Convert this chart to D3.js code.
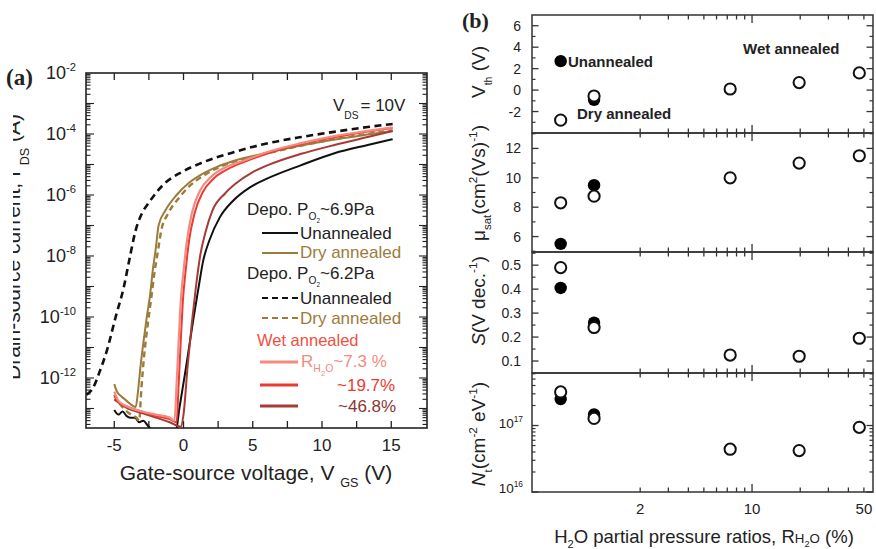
<!DOCTYPE html>
<html><head><meta charset="utf-8">
<script src="https://cdn.jsdelivr.net/npm/d3@7"></script>
<style>
body{margin:0;background:#fff}
svg{display:block}
text{font-family:"Liberation Sans",Arial,Helvetica,sans-serif;fill:#222}
</style></head>
<body><svg id="c" width="876" height="549"></svg>
<script>
// ---------------- DATA : panel (a) transfer curves, VGS (V) and log10(IDS/A) ----------------
const v_unann69   = [-5,-4.7,-4.4,-4.1,-3.85,-3.5,-3.2,-2.9,-2.6,-2.3,-1.5,-0.55,-0.3,0.2,0.7,1.1,1.4,1.9,2.6,3.6,4.8,6.1,8.5,10.9,13.3,15.1];
const logI_unann69= [-13.05,-13.2,-13.1,-13.25,-13.3,-13.3,-13.45,-13.4,-13.55,-13.7,-13.95,-13.75,-13.0,-11.6,-10.1,-9.0,-8.2,-7.45,-6.75,-6.18,-5.75,-5.45,-5.02,-4.63,-4.36,-4.17];

const v_dry69     = [-5,-4.8,-4.5,-4.1,-3.7,-3.45,-3.3,-3.1,-2.9,-2.65,-2.42,-2.2,-2.0,-1.8,-1.3,-0.5,0.4,1.4,2.5,3.5,6.0,8.5,10.9,13.3,15.1];
const logI_dry69  = [-12.2,-12.45,-12.6,-12.75,-12.9,-12.95,-12.5,-11.6,-10.85,-10.0,-9.3,-8.4,-7.75,-7.0,-6.5,-6.0,-5.6,-5.3,-5.06,-4.9,-4.62,-4.38,-4.18,-4.02,-3.9];

const v_unann62   = [-7.0,-6.5,-6.1,-5.5,-4.9,-4.3,-3.9,-3.45,-3.0,-2.5,-1.5,-0.14,1.29,3.67,6.12,8.49,10.86,13.3,15.1];
const logI_unann62= [-12.55,-12.3,-11.85,-11.05,-10.0,-9.0,-8.1,-7.15,-6.6,-6.25,-5.68,-5.25,-4.95,-4.59,-4.3,-4.1,-3.93,-3.77,-3.67];

const v_dry62     = [-5,-4.6,-4.2,-3.8,-3.4,-3.2,-3.05,-2.85,-2.6,-2.35,-2.1,-1.85,-1.6,-1.1,-0.3,0.5,1.4,2.5,3.5,6.0,8.5,11.0,13.3,15.1];
const logI_dry62  = [-12.55,-12.85,-13.05,-13.2,-13.3,-13.4,-12.4,-11.3,-10.3,-9.45,-8.55,-7.85,-7.15,-6.6,-6.08,-5.68,-5.38,-5.1,-4.93,-4.64,-4.38,-4.16,-4.0,-3.88];

const v_wet73     = [-5,-4.7,-4.0,-3.0,-2.0,-1.0,-0.65,-0.5,-0.35,-0.2,0.0,0.25,0.6,1.2,2.0,3.0,4.5,6.0,8.5,11.0,13.3,15.1];
const logI_wet73  = [-12.45,-12.75,-12.95,-13.1,-13.2,-13.3,-13.4,-12.2,-10.8,-9.5,-8.5,-7.5,-6.6,-5.85,-5.4,-5.1,-4.85,-4.6,-4.3,-4.06,-3.9,-3.78];

const v_wet197    = [-5,-4.5,-4.0,-3.0,-2.0,-1.0,-0.5,-0.35,-0.2,-0.05,0.15,0.4,0.8,1.4,2.2,3.2,4.5,6.0,8.5,11.0,13.3,15.1];
const logI_wet197 = [-12.6,-12.85,-12.95,-13.1,-13.25,-13.35,-13.45,-12.2,-10.8,-9.5,-8.5,-7.5,-6.6,-5.9,-5.45,-5.15,-4.9,-4.65,-4.33,-4.1,-3.92,-3.8];

const v_wet468    = [-5,-4.0,-3.0,-2.0,-1.0,-0.2,0.0,0.3,0.6,0.9,1.2,1.6,2.1,3.0,3.7,5.0,6.1,8.5,10.9,13.3,15.1];
const logI_wet468 = [-12.7,-13.0,-13.15,-13.3,-13.45,-13.6,-13.2,-11.6,-10.2,-9.0,-8.0,-7.2,-6.5,-5.95,-5.65,-5.25,-5.02,-4.65,-4.36,-4.1,-3.9];

const xTicksA = [-5,0,5,10,15];
const yTickExpA = [-2,-4,-6,-8,-10,-12];

// ---------------- DATA : panel (b) ----------------
// x positions on the log axis for the non-wet categories, and wet R_H2O (%)
const catNames = ["Unannealed","Dry annealed"];
const catPos   = [0.637, 1.03];
const wetR     = [7.3, 19.7, 46.8];
// filled symbols (Depo. 6.9 Pa), open symbols (Depo. 6.2 Pa), wet annealed (open)
const vthFilled = [2.7, -0.9],  vthOpen = [-2.8, -0.55], vthWet = [0.1, 0.7, 1.6];
const muFilled  = [5.5, 9.5],   muOpen  = [8.3, 8.75],   muWet  = [10.0, 11.0, 11.5];
const sFilled   = [0.405, 0.26],sOpen   = [0.49, 0.24],  sWet   = [0.125, 0.12, 0.195];
const ntFilled  = [2.5e17, 1.47e17], ntOpen = [3.2e17, 1.28e17], ntWet = [4.4e16, 4.2e16, 9.4e16];
const xTicksB = [2, 10, 50];

// ---------------- helpers ----------------
const svg = d3.select("#c");
const defs = svg.append("defs");

function rich(parent, x, y, fs, parts, opt={}) {
  const t = parent.append("text").attr("x", x).attr("y", y)
    .attr("font-size", fs).attr("text-anchor", opt.anchor || "start");
  if (opt.fill) t.style("fill", opt.fill);
  if (opt.weight) t.attr("font-weight", opt.weight);
  if (opt.transform) t.attr("transform", opt.transform);
  if (opt.family) t.style("font-family", opt.family);
  let cur = 0;
  parts.forEach(p => {
    let off = 0, sz = fs;
    if (p.s === "sup") { off = -0.42*fs; sz = 0.62*fs; }
    else if (p.s === "sub") { off = (p.o !== undefined ? p.o : 0.3)*fs; sz = (p.z || 0.62)*fs; }
    else if (p.s === "small") { off = 0; sz = (p.z || 0.7)*fs; }
    const ts = t.append("tspan").attr("dy", (off - cur).toFixed(2)).attr("font-size", sz).text(p.t);
    if (p.dx) ts.attr("dx", p.dx);
    if (p.i) ts.attr("font-style", "italic");
    cur = off;
  });
  return t;
}

// ================= PANEL (a) =================
const A = {l:86, r:427, t:73, b:428};
const xA = d3.scaleLinear().domain([-7.04, 17.58]).range([A.l, A.r]);
const yA = d3.scaleLog().domain([Math.pow(10,-13.64), 1e-2]).range([A.b, A.t]);
const gA = svg.append("g");

defs.append("clipPath").attr("id","clipA").append("rect")
  .attr("x",A.l).attr("y",A.t).attr("width",A.r-A.l).attr("height",A.b-A.t);

// ticks (inward) on all sides
const xMinorA = d3.range(-5, 15.01, 2.5);
xMinorA.forEach(v => {
  gA.append("line").attr("x1",xA(v)).attr("x2",xA(v)).attr("y1",A.b).attr("y2",A.b-7).attr("stroke","#222").attr("stroke-width",1.3);
  gA.append("line").attr("x1",xA(v)).attr("x2",xA(v)).attr("y1",A.t).attr("y2",A.t+7).attr("stroke","#222").attr("stroke-width",1.3);
});
for (let e = -14; e <= -3; e++) {
  for (let k = 1; k <= 9; k++) {
    const val = k*Math.pow(10,e);
    if (val < yA.domain()[0] || val > 1e-2) continue;
    const len = k === 1 ? 8 : 4.5;
    const yy = yA(val);
    gA.append("line").attr("x1",A.l).attr("x2",A.l+len).attr("y1",yy).attr("y2",yy).attr("stroke","#222").attr("stroke-width",1.1);
    gA.append("line").attr("x1",A.r).attr("x2",A.r-len).attr("y1",yy).attr("y2",yy).attr("stroke","#222").attr("stroke-width",1.1);
  }
}
gA.append("rect").attr("x",A.l).attr("y",A.t).attr("width",A.r-A.l).attr("height",A.b-A.t)
  .attr("fill","none").attr("stroke","#222").attr("stroke-width",1.6);

// tick labels
xTicksA.forEach(v => {
  gA.append("text").attr("x", xA(v)).attr("y", A.b+23).attr("text-anchor","middle")
    .attr("font-size",17).text(v < 0 ? "-" + Math.abs(v) : String(v));
});
yTickExpA.forEach(e => {
  rich(gA, 76, yA(Math.pow(10,e)) + 6, 18, [{t:"10"},{t:String(e), s:"sup"}], {anchor:"end"});
});

// axis titles
rich(gA, 256, 480, 21, [{t:"Gate-source voltage, V "},{t:"GS", s:"sub", o:0.35, z:0.6},{t:" (V)"}], {anchor:"middle"});
defs.append("clipPath").attr("id","clipYL").append("rect").attr("x",13).attr("y",0).attr("width",60).attr("height",549);
const ylab = gA.append("g").attr("clip-path","url(#clipYL)");
rich(ylab, 0, 0, 21, [{t:"Drain-source current, I "},{t:"DS", s:"sub", o:0.45, z:0.6},{t:" (A)"}],
  {anchor:"middle", transform:"translate(20,247) rotate(-90)"});

// panel label
gA.append("text").attr("x",6).attr("y",85).attr("font-size",23).attr("font-weight","bold")
  .style("font-family",'"Liberation Serif","Times New Roman",serif').text("(a)");

// VDS annotation
rich(gA, 333, 111, 17, [{t:"V"},{t:"DS", s:"sub", o:0.45, z:0.6},{t:"= 10V", dx:2}]);

// curves
const toPts = (vs, ls) => vs.map((v,i) => [v, Math.pow(10, ls[i])]);
const line = d3.line().x(d => xA(d[0])).y(d => yA(d[1])).curve(d3.curveMonotoneX);
const curves = d3.select("#c").append("g").attr("clip-path","url(#clipA)");
const BROWN = "#9c7b3c", LRED = "#f48a80", RED = "#ec3a31", DRED = "#a83a36";
const curveDefs = [
  {v:v_unann62, l:logI_unann62, c:"#111", dash:"7,4.5", w:2.6},
  {v:v_unann69, l:logI_unann69, c:"#111", dash:null, w:2},
  {v:v_dry62,   l:logI_dry62,   c:BROWN,  dash:"6,4", w:2.4},
  {v:v_dry69,   l:logI_dry69,   c:BROWN,  dash:null, w:2},
  {v:v_wet468,  l:logI_wet468,  c:DRED,   dash:null, w:2},
  {v:v_wet197,  l:logI_wet197,  c:RED,    dash:null, w:2},
  {v:v_wet73,   l:logI_wet73,   c:LRED,   dash:null, w:2.2}
];
curveDefs.forEach(cd => {
  curves.append("path").attr("d", line(toPts(cd.v, cd.l))).attr("fill","none")
    .attr("stroke", cd.c).attr("stroke-width", cd.w).attr("stroke-dasharray", cd.dash);
});

// legend
const lg = svg.append("g");
const FS = 17;
rich(lg, 247, 215, FS, [{t:"Depo. P"},{t:"O", s:"sub", o:0.28, z:0.6},{t:"2", s:"sub", o:0.45, z:0.38},{t:"~6.9Pa"}]);
lg.append("line").attr("x1",262).attr("x2",298).attr("y1",233).attr("y2",233).attr("stroke","#111").attr("stroke-width",2);
lg.append("text").attr("x",300).attr("y",239).attr("font-size",FS).text("Unannealed");
lg.append("line").attr("x1",262).attr("x2",298).attr("y1",253).attr("y2",253).attr("stroke",BROWN).attr("stroke-width",2);
lg.append("text").attr("x",300).attr("y",258).attr("font-size",FS).style("fill",BROWN).text("Dry annealed");
rich(lg, 247, 279, FS, [{t:"Depo. P"},{t:"O", s:"sub", o:0.28, z:0.6},{t:"2", s:"sub", o:0.45, z:0.38},{t:"~6.2Pa"}]);
lg.append("line").attr("x1",262).attr("x2",298).attr("y1",298).attr("y2",298).attr("stroke","#111").attr("stroke-width",2.2).attr("stroke-dasharray","6,4");
lg.append("text").attr("x",300).attr("y",304).attr("font-size",FS).text("Unannealed");
lg.append("line").attr("x1",262).attr("x2",298).attr("y1",318).attr("y2",318).attr("stroke",BROWN).attr("stroke-width",2.2).attr("stroke-dasharray","6,4");
lg.append("text").attr("x",300).attr("y",324).attr("font-size",FS).style("fill",BROWN).text("Dry annealed");
lg.append("text").attr("x",257).attr("y",346).attr("font-size",16.5).style("fill","#f0503f").text("Wet annealed");
lg.append("line").attr("x1",260).attr("x2",298).attr("y1",362).attr("y2",362).attr("stroke",LRED).attr("stroke-width",3);
rich(lg, 301, 367, FS, [{t:"R"},{t:"H", s:"sub", o:0.3, z:0.62},{t:"2", s:"sub", o:0.5, z:0.45},{t:"O", s:"sub", o:0.3, z:0.62},{t:"~7.3 %"}], {fill:LRED});
lg.append("line").attr("x1",260).attr("x2",298).attr("y1",385).attr("y2",385).attr("stroke",RED).attr("stroke-width",3);
lg.append("text").attr("x",337).attr("y",391).attr("font-size",FS).style("fill",RED).text("~19.7%");
lg.append("line").attr("x1",260).attr("x2",298).attr("y1",406).attr("y2",406).attr("stroke",DRED).attr("stroke-width",3);
lg.append("text").attr("x",338).attr("y",412).attr("font-size",FS).style("fill","#8e3533").text("~46.8%");

// ================= PANEL (b) =================
const B = {l:532, r:873};
const rows = [15, 133, 252, 373, 492];
const xB = d3.scaleLog().domain([0.4217, 57.0]).range([B.l, B.r]);
const yVth = d3.scaleLinear().domain([-4, 7]).range([rows[1], rows[0]]);
const yMu  = d3.scaleLinear().domain([4.95, 13.05]).range([rows[2], rows[1]]);
const yS   = d3.scaleLinear().domain([0.05, 0.555]).range([rows[3], rows[2]]);
const yNt  = d3.scaleLog().domain([1e16, Math.pow(10,17.79)]).range([rows[4], rows[3]]);
const gB = svg.append("g");

// x ticks at every horizontal line
const xMinorB = [2,3,4,5,6,7,8,9,10,20,30,40,50];
rows.forEach((ry, i) => {
  xMinorB.forEach(v => {
    const len = v === 10 ? 8 : 4.5;
    const up = i > 0 ? len : 0, down = i < rows.length-1 ? len : 0;
    gB.append("line").attr("x1",xB(v)).attr("x2",xB(v)).attr("y1",ry-up).attr("y2",ry+down)
      .attr("stroke","#333").attr("stroke-width",1.3);
  });
});

function yTicks(scale, majors, minors, fmt) {
  minors.forEach(v => {
    const yy = scale(v);
    gB.append("line").attr("x1",B.l).attr("x2",B.l+3.5).attr("y1",yy).attr("y2",yy).attr("stroke","#333").attr("stroke-width",1.2);
    gB.append("line").attr("x1",B.r).attr("x2",B.r-3.5).attr("y1",yy).attr("y2",yy).attr("stroke","#333").attr("stroke-width",1.2);
  });
  majors.forEach(v => {
    const yy = scale(v);
    gB.append("line").attr("x1",B.l).attr("x2",B.l+6.5).attr("y1",yy).attr("y2",yy).attr("stroke","#333").attr("stroke-width",1.3);
    gB.append("line").attr("x1",B.r).attr("x2",B.r-6.5).attr("y1",yy).attr("y2",yy).attr("stroke","#333").attr("stroke-width",1.3);
    if (fmt) gB.append("text").attr("x",521).attr("y",yy+5).attr("text-anchor","end").attr("font-size",14).text(fmt(v));
  });
}
const fmtNum = v => (v < 0 ? "-" + Math.abs(v) : String(v));
yTicks(yVth, [6,4,2,0,-2], [5,3,1,-1,-3], fmtNum);
yTicks(yMu, [12,10,8,6], [13,11,9,7,5], fmtNum);
yTicks(yS, [0.5,0.4,0.3,0.2,0.1], [0.55,0.45,0.35,0.25,0.15], v => v.toFixed(1));
const ntMinor = [];
[16,17].forEach(e => { for (let k=2;k<=9;k++){ const val=k*Math.pow(10,e); if (val < yNt.domain()[1]) ntMinor.push(val);} });
yTicks(yNt, [1e16,1e17], ntMinor, null);
[[1e17,"17"],[1e16,"16"]].forEach(([v,e]) => {
  rich(gB, 523, yNt(v) + (v === 1e16 ? 1 : 2), 13.5, [{t:"10"},{t:e, s:"sup"}], {anchor:"end"});
});

// frames
rows.slice(0,4).forEach((ry,i) => {
  gB.append("rect").attr("x",B.l).attr("y",ry).attr("width",B.r-B.l).attr("height",rows[i+1]-ry)
    .attr("fill","none").attr("stroke","#333").attr("stroke-width",1.5);
});

// x tick labels + title
xTicksB.forEach(v => {
  gB.append("text").attr("x",xB(v)).attr("y",514).attr("text-anchor","middle").attr("font-size",15).text(String(v));
});
rich(gB, 704, 543, 18.5, [{t:"H"},{t:"2", s:"sub", o:0.25, z:0.6},{t:"O partial pressure ratios, R"},
  {t:"H", s:"small", z:0.72},{t:"2", s:"sub", o:0.22, z:0.5},{t:"O", s:"small", z:0.72},{t:" (%)"}], {anchor:"middle"});

// y titles (rotated)
const YT = 19;
rich(gB, 0, 0, YT, [{t:"V"},{t:"th", s:"sub", o:0.35, z:0.55},{t:" (V)"}], {anchor:"middle", transform:"translate(485,72) rotate(-90)"});
rich(gB, 0, 0, YT, [{t:"\u03bc"},{t:"sat", s:"sub", o:0.3, z:0.6},{t:"(cm"},{t:"2", s:"sup"},{t:"(Vs)"},{t:"-1", s:"sup"},{t:")"}],
  {anchor:"middle", transform:"translate(485,183) rotate(-90)"});
rich(gB, 0, 0, YT, [{t:"S", i:true},{t:"(V dec."},{t:"-1", s:"sup"},{t:")"}], {anchor:"middle", transform:"translate(485,301) rotate(-90)"});
rich(gB, 0, 0, YT, [{t:"N", i:true},{t:"t", s:"sub", o:0.35, z:0.6},{t:"(cm"},{t:"-2", s:"sup"},{t:" eV"},{t:"-1", s:"sup"},{t:")"}],
  {anchor:"middle", transform:"translate(485,434) rotate(-90)"});

// panel label and annotations
gB.append("text").attr("x",462).attr("y",28).attr("font-size",22).attr("font-weight","bold")
  .style("font-family",'"Liberation Serif","Times New Roman",serif').text("(b)");
gB.append("text").attr("x",568).attr("y",67).attr("font-size",15).attr("font-weight","bold").text(catNames[0]);
gB.append("text").attr("x",577).attr("y",119).attr("font-size",15).attr("font-weight","bold").text(catNames[1]);
gB.append("text").attr("x",743).attr("y",54).attr("font-size",15).attr("font-weight","bold").text("Wet annealed");

// points
const R = 5.6;
function pts(scale, filled, open, wet) {
  filled.forEach((v,i) => gB.append("circle").attr("cx",xB(catPos[i])).attr("cy",scale(v)).attr("r",R+0.6).attr("fill","#000"));
  open.forEach((v,i) => gB.append("circle").attr("cx",xB(catPos[i])).attr("cy",scale(v)).attr("r",R).attr("fill","#fff").attr("stroke","#111").attr("stroke-width",2));
  wet.forEach((v,i) => gB.append("circle").attr("cx",xB(wetR[i])).attr("cy",scale(v)).attr("r",R).attr("fill","#fff").attr("stroke","#111").attr("stroke-width",2));
}
pts(yVth, vthFilled, vthOpen, vthWet);
pts(yMu, muFilled, muOpen, muWet);
pts(yS, sFilled, sOpen, sWet);
pts(yNt, ntFilled, ntOpen, ntWet);
</script>
</body></html>
